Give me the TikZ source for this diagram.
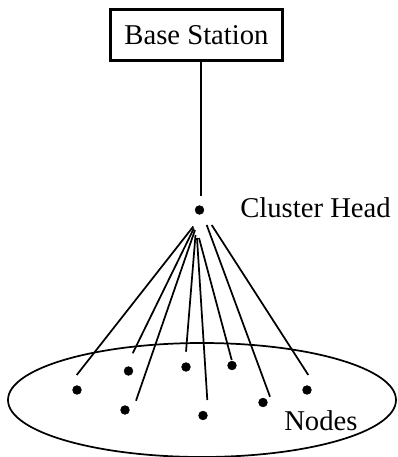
\documentclass[tikz,border=0pt]{standalone}
\usepackage{fontspec}
\setmainfont{Liberation Serif}
\begin{document}
\begin{tikzpicture}[x=0.75pt,y=-0.75pt,
  lbl/.style={font=\fontsize{21.5}{24}\selectfont, inner sep=0pt},
  dotnode/.style={circle, fill=black, draw=black, line width=0.5pt, inner sep=0pt, minimum size=6.5pt},
  wire/.style={line width=1.3pt},
  bsbox/.style={draw, line width=2.8pt, minimum width=129pt, minimum height=38.25pt, inner sep=0pt, font=\fontsize{21.5}{24}\selectfont}]
\useasboundingbox (0,0) rectangle (398,457);
% base station
\node[bsbox] (bs) at (196.5,35) {Base Station};
% cluster head
\node[dotnode] (ch) at (199.5,210) {};
\coordinate (chtop) at (201,196);
\draw[wire] (bs.south -| chtop) -- (chtop);
\node[lbl, anchor=base west] (chl) at (240,217) {Cluster Head};
% field ellipse
\draw[wire] (202,400) ellipse [x radius=194, y radius=57];
% nodes
\node[dotnode] (n1) at (77,390) {};
\node[dotnode] (n2) at (128.5,371) {};
\node[dotnode] (n3) at (186,367) {};
\node[dotnode] (n4) at (232,365.5) {};
\node[dotnode] (n5) at (125,410) {};
\node[dotnode] (n6) at (203,415.5) {};
\node[dotnode] (n7) at (263,402.5) {};
\node[dotnode] (n8) at (307,390) {};
\node[lbl, anchor=base west] (nl) at (284,430) {Nodes};
% link start and end points
\coordinate (s1) at (193.3,226.5);
\coordinate (s2) at (193.8,228.5);
\coordinate (s3) at (195,230);
\coordinate (s4) at (195.5,235);
\coordinate (s5) at (197,238);
\coordinate (s6) at (199,238);
\coordinate (s7) at (206.7,225);
\coordinate (s8) at (211.7,225);
\coordinate (e1) at (76.7,375);
\coordinate (e2) at (132.7,353.3);
\coordinate (e3) at (136,400.7);
\coordinate (e4) at (186,351.7);
\coordinate (e5) at (207.3,400);
\coordinate (e6) at (231.7,360);
\coordinate (e7) at (270,396.7);
\coordinate (e8) at (308.3,375);
\foreach \i in {1,...,8} \draw[wire] (s\i) -- (e\i);
\end{tikzpicture}
\end{document}
